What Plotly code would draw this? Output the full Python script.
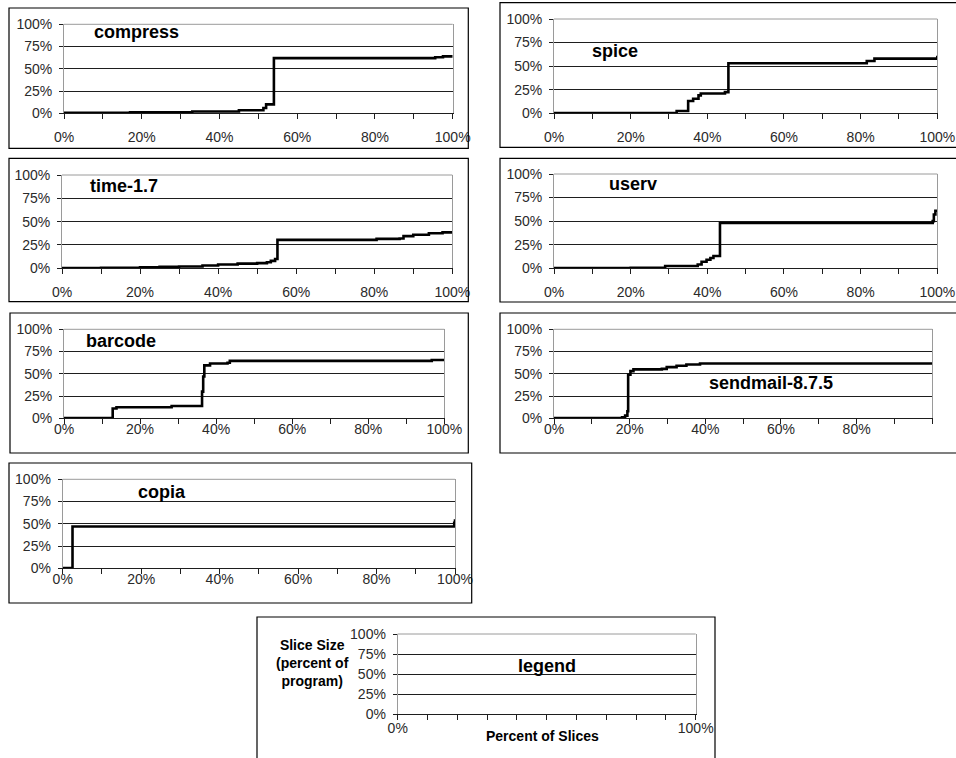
import plotly.graph_objects as go

W, H = 956, 758

# ---- cumulative slice-size curves (percent of slices -> percent of program) ----
compress_x = [0, 17, 33, 45, 51.3, 52, 54, 95.5, 97.5, 100]
compress_y = [0.5, 1, 2, 3.5, 6, 10, 62, 63, 64, 64]

spice_x = [0, 32, 35, 36.3, 37.7, 38.3, 44.6, 45.5, 81.6, 83.6, 99.7, 100]
spice_y = [0.3, 2.5, 13, 15.5, 19, 21, 22.5, 53, 55.5, 58, 58, 61]

time_x = [0, 10, 20, 25, 30, 36, 40, 45, 50, 52.5, 53.5, 54.6, 55.2, 80.6, 86.5, 87.5, 90, 94, 97.5, 100]
time_y = [0.3, 0.5, 1, 1.5, 2, 3, 4, 5, 5.5, 6.5, 8, 10, 30.5, 31.5, 32, 34.5, 36, 37.5, 38.5, 40]

userv_x = [0, 20, 29, 37.5, 38.5, 39.8, 40.8, 41.6, 43.3, 98.8, 99.1, 99.5, 100]
userv_y = [0.3, 0.5, 2.5, 4, 7, 9, 11, 13, 48, 50, 57, 61, 62]

barcode_x = [0, 12.8, 13.8, 28.3, 36.3, 36.6, 36.9, 38.4, 43, 43.6, 96.7, 100]
barcode_y = [0.3, 11, 12.4, 13.8, 30, 47, 59.5, 61.5, 62.5, 64.5, 65.5, 65.5]

sendmail_x = [0, 18, 18.8, 19.4, 19.6, 20.2, 21, 28.5, 29.8, 32.4, 35, 38.6, 100]
sendmail_y = [0.3, 1, 3, 8, 49, 53, 55, 55.5, 57.5, 59, 60.5, 61.5, 62]

copia_x = [0, 2.5, 99.4, 99.8, 100]
copia_y = [0.3, 47, 47, 51, 55]

legend_x = []
legend_y = []

# ---- axis ticks ----
x_tickvals = [0, 10, 20, 30, 40, 50, 60, 70, 80, 90, 100]
x_ticktext = ["0%", "", "20%", "", "40%", "", "60%", "", "80%", "", "100%"]
x_ticktext_no_end = ["0%", "", "20%", "", "40%", "", "60%", "", "80%", "", ""]
x_ticktext_ends = ["0%", "", "", "", "", "", "", "", "", "", "100%"]
y_tickvals = [0, 25, 50, 75, 100]
y_ticktext = ["0%", "25%", "50%", "75%", "100%"]
y_gridvals = [25, 50, 75]

# ---- panel layout (pixels): plot area, frame, title anchor, x-label standoff ----
panels = [
    dict(name="compress", x=compress_x, y=compress_y, ticks=x_ticktext,
         plot=(64, 24.3, 452.7, 113.3), frame=(9, 8, 468.3, 148.3), title=(92, 31.5), standoff=6),
    dict(name="spice", x=spice_x, y=spice_y, ticks=x_ticktext,
         plot=(554, 19, 937.3, 113.3), frame=(500, 2.7, 960, 147.3), title=(590, 50.5), standoff=6),
    dict(name="time-1.7", x=time_x, y=time_y, ticks=x_ticktext,
         plot=(62, 175, 452.3, 268.3), frame=(9, 158.3, 468.3, 301.7), title=(88, 186), standoff=6),
    dict(name="userv", x=userv_x, y=userv_y, ticks=x_ticktext,
         plot=(554, 174, 937.3, 268.3), frame=(500, 158.3, 960, 302), title=(607, 184.5), standoff=6),
    dict(name="barcode", x=barcode_x, y=barcode_y, ticks=x_ticktext,
         plot=(64, 329.3, 444.3, 418.3), frame=(10, 313, 468.3, 453), title=(84, 340.5), standoff=-7),
    dict(name="sendmail-8.7.5", x=sendmail_x, y=sendmail_y, ticks=x_ticktext_no_end,
         plot=(554, 329.3, 932.3, 418.3), frame=(500, 313, 960, 453), title=(706.5, 383), standoff=-7),
    dict(name="copia", x=copia_x, y=copia_y, ticks=x_ticktext,
         plot=(62.7, 479.3, 455, 568.3), frame=(9, 463, 471.7, 603), title=(135.5, 492), standoff=-7),
    dict(name="legend", x=legend_x, y=legend_y, ticks=x_ticktext_ends,
         plot=(397.7, 634, 695.7, 714.3), frame=(257, 617, 715, 770), title=(515.5, 665.5), standoff=-4),
]

FONT = "Liberation Sans, Arial, sans-serif"
DARK = "#1e1e1e"
GREY = "#9a9a9a"


def px(v):
    return v / W


def py(v):
    return 1 - v / H


fig = go.Figure()
shapes = []
annotations = []

for i, p in enumerate(panels, start=1):
    sfx = "" if i == 1 else str(i)
    x0, y0, x1, y1 = p["plot"]

    fig.add_trace(go.Scatter(
        x=p["x"], y=p["y"], mode="lines", line=dict(color="black", width=2.6, shape="hv"),
        xaxis="x" + sfx, yaxis="y" + sfx, showlegend=False, hoverinfo="skip",
    ))

    fig.layout["xaxis" + sfx] = dict(
        domain=[px(x0), px(x1)], anchor="y" + sfx, range=[0, 100],
        tickmode="array", tickvals=x_tickvals, ticktext=p["ticks"],
        ticks="outside", ticklen=5, tickwidth=1, tickcolor=DARK,
        showline=True, linecolor=DARK, linewidth=1, mirror=False,
        showgrid=False, zeroline=False, fixedrange=True, automargin=False,
        ticklabelstandoff=p["standoff"],
        tickfont=dict(family=FONT, size=14, color="#2a2a2a"),
    )
    fig.layout["yaxis" + sfx] = dict(
        domain=[py(y1), py(y0)], anchor="x" + sfx, range=[0, 100],
        tickmode="array", tickvals=y_tickvals, ticktext=y_ticktext,
        ticks="outside", ticklen=4, tickwidth=1, tickcolor=DARK,
        showline=True, linecolor=GREY, linewidth=1, mirror=True,
        showgrid=False, zeroline=False, fixedrange=True, automargin=False,
        minor=dict(tickmode="array", tickvals=y_gridvals, showgrid=True,
                   gridcolor=DARK, gridwidth=1, ticks=""),
        ticklabelstandoff=4,
        tickfont=dict(family=FONT, size=14, color="#2a2a2a"),
    )

    # grey upper edge of the plot area
    shapes.append(dict(type="line", xref="x" + sfx + " domain", yref="y" + sfx + " domain",
                       x0=0, x1=1, y0=1, y1=1, line=dict(color=GREY, width=1), layer="above"))

    # frame around the panel
    fx0, fy0, fx1, fy1 = p["frame"]
    shapes.append(dict(type="rect", xref="paper", yref="paper",
                       x0=px(fx0), x1=px(fx1), y0=py(fy1), y1=py(fy0),
                       line=dict(color="black", width=1.2), fillcolor="rgba(0,0,0,0)"))

    tx, ty = p["title"]
    annotations.append(dict(text="<b>%s</b>" % p["name"], xref="paper", yref="paper",
                            x=px(tx), y=py(ty), xanchor="left", yanchor="middle",
                            showarrow=False, font=dict(family=FONT, size=18, color="black")))

# axis titles of the legend panel
annotations.append(dict(text="<b>Slice Size<br>(percent of<br>program)</b>", xref="paper", yref="paper",
                        x=px(312), y=py(663), xanchor="center", yanchor="middle", align="center",
                        showarrow=False, font=dict(family=FONT, size=14, color="black")))
annotations.append(dict(text="<b>Percent of Slices</b>", xref="paper", yref="paper",
                        x=px(542.5), y=py(736), xanchor="center", yanchor="middle",
                        showarrow=False, font=dict(family=FONT, size=14, color="black")))

fig.update_layout(
    template="none",
    width=W, height=H, autosize=False,
    margin=dict(l=0, r=0, t=0, b=0, pad=0, autoexpand=False),
    paper_bgcolor="white", plot_bgcolor="white",
    shapes=shapes, annotations=annotations, showlegend=False,
    font=dict(family=FONT),
)

# page without the default body margin so the figure fills the window exactly
fig.write_html("out.html",
               post_script="document.body.style.margin='0';document.body.style.overflow='hidden';")
